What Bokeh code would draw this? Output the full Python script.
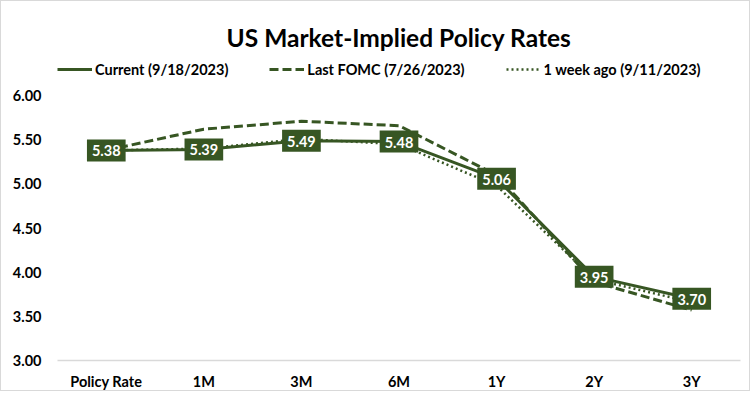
from bokeh.plotting import figure
from bokeh.models import ColumnDataSource, Range1d, Legend, LegendItem, FixedTicker, NumeralTickFormatter
from bokeh.core.properties import value
from bokeh.embed import file_html
from bokeh.resources import INLINE

categories = ["Policy Rate", "1M", "3M", "6M", "1Y", "2Y", "3Y"]
current = [5.38, 5.39, 5.49, 5.48, 5.06, 3.95, 3.70]
last_fomc = [5.38, 5.62, 5.71, 5.66, 5.10, 3.89, 3.57]
week_ago = [5.38, 5.40, 5.51, 5.45, 4.98, 3.92, 3.66]
y_ticks = [3.0, 3.5, 4.0, 4.5, 5.0, 5.5, 6.0]

GREEN = "#375623"
FONT = "Lato"

src = ColumnDataSource(dict(
    cat=categories, current=current, last_fomc=last_fomc, week_ago=week_ago,
    lbl=["%.2f" % v for v in current],
))

p = figure(
    x_range=categories, y_range=Range1d(3.0, 6.5),
    width=750, height=391, output_backend="svg", toolbar_location=None,
    min_border_left=56, min_border_right=11, min_border_top=50, min_border_bottom=32,
    title="US Market-Implied Policy Rates",
    styles={"border": "1px solid #D9D9D9"},
)
p.x_range.range_padding = 0.0
p.outline_line_color = None
p.background_fill_color = "white"
p.border_fill_color = "white"

p.title.align = "center"
p.title.text_font = FONT
p.title.text_font_size = "24.5px"
p.title.text_font_style = "bold"
p.title.text_color = "#000000"
p.title.standoff = 0

r1 = p.line("cat", "current", source=src, line_color=GREEN, line_width=3)
r2 = p.line("cat", "last_fomc", source=src, line_color=GREEN, line_width=3, line_dash="9 4")
r3 = p.line("cat", "week_ago", source=src, line_color=GREEN, line_width=2.5, line_dash="2 3")

p.text("cat", "current", text="lbl", source=src, text_align="center", text_baseline="middle",
       text_color="white", text_font=value(FONT), text_font_style="bold", text_font_size="14.5px",
       background_fill_color=GREEN, padding=[5, 5, 6, 5])

p.xgrid.grid_line_color = None
p.ygrid.grid_line_color = None

p.xaxis.axis_line_color = "#D9D9D9"
p.xaxis.axis_line_width = 1.5
p.xaxis.major_tick_line_color = None
p.xaxis.minor_tick_line_color = None
p.xaxis.major_label_standoff = 6
p.xaxis.major_label_text_font = FONT
p.xaxis.major_label_text_font_style = "bold"
p.xaxis.major_label_text_font_size = "14.5px"
p.xaxis.major_label_text_color = "#000000"

p.yaxis.ticker = FixedTicker(ticks=y_ticks)
p.yaxis.formatter = NumeralTickFormatter(format="0.00")
p.yaxis.axis_line_color = None
p.yaxis.major_tick_line_color = None
p.yaxis.minor_tick_line_color = None
p.yaxis.major_label_standoff = 10
p.yaxis.major_label_text_font = FONT
p.yaxis.major_label_text_font_style = "bold"
p.yaxis.major_label_text_font_size = "14.5px"
p.yaxis.major_label_text_color = "#000000"

legend = Legend(items=[
    LegendItem(label="Current (9/18/2023)", renderers=[r1]),
    LegendItem(label="Last FOMC (7/26/2023)", renderers=[r2]),
    LegendItem(label="1 week ago (9/11/2023)", renderers=[r3]),
], orientation="horizontal", location=(0, 281))
legend.label_text_font = FONT
legend.label_text_font_style = "bold"
legend.label_text_font_size = "14.5px"
legend.label_text_color = "#000000"
legend.glyph_width = 35
legend.label_standoff = 3
legend.spacing = 41
legend.border_line_color = None
legend.background_fill_alpha = 0
legend.margin = 0
legend.padding = 0
p.add_layout(legend)

open("out.html", "w").write(file_html(p, INLINE))
